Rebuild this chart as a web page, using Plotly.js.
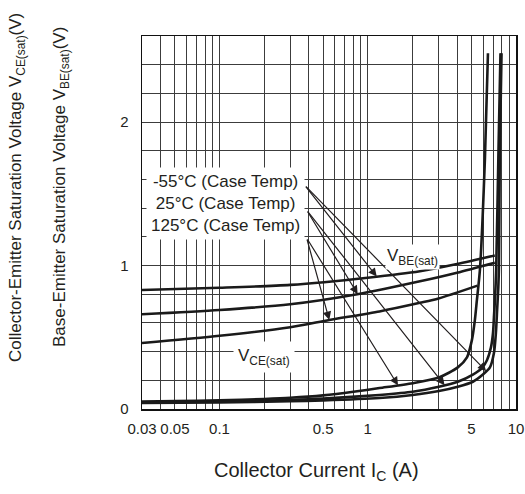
<!DOCTYPE html>
<html>
<head>
<meta charset="utf-8">
<script src="https://cdn.plot.ly/plotly-3.0.1.min.js"></script>
<style>html,body{margin:0;padding:0;background:#fff;}#chart{width:525px;height:494px;}</style>
</head>
<body>
<div id="chart"></div>
<script>
// ---- Data ----
const xTickVals = [0.03, 0.05, 0.1, 0.5, 1, 5, 10];
const xTickText = ['0.03', '0.05', '0.1', '0.5', '1', '5', '10'];
const xGridVals = [0.04, 0.06, 0.07, 0.08, 0.09, 0.2, 0.3, 0.4, 0.6, 0.7, 0.8, 0.9, 2, 3, 4, 6, 7, 8, 9];
const yTickVals = [0, 1, 2];
const yTickText = ['0', '1', '2'];

// VBE(sat) curves
const vbeCurrentM55 = [0.03, 0.1, 0.3, 1, 2.25, 4, 7.2];
const vbeM55 = [0.83, 0.845, 0.865, 0.915, 0.96, 1.01, 1.07];
const vbeCurrent25 = [0.03, 0.1, 0.3, 0.85, 2.25, 4, 7.2];
const vbe25 = [0.66, 0.69, 0.73, 0.80, 0.89, 0.95, 1.02];
const vbeCurrent125 = [0.03, 0.1, 0.3, 0.55, 1.2, 2.25, 3.0, 5.5];
const vbe125 = [0.46, 0.51, 0.57, 0.62, 0.68, 0.74, 0.77, 0.86];

// VCE(sat) curves
const vceCurrent125 = [0.03, 0.05, 0.1, 0.2, 0.3, 0.5, 0.8, 1.2, 2.01, 3.02, 4.05, 4.67, 5.04, 5.28, 5.45, 5.71, 6.17, 6.47];
const vce125 = [0.052, 0.055, 0.06, 0.07, 0.078, 0.095, 0.12, 0.146, 0.18, 0.22, 0.29, 0.36, 0.48, 0.62, 0.76, 0.97, 1.74, 2.48];
const vceCurrent25 = [0.03, 0.1, 0.3, 0.5, 1.2, 2.01, 3.02, 4.05, 5.12, 5.89, 6.37, 6.78, 7.0, 7.1, 7.21, 7.35, 7.62, 7.86];
const vce25 = [0.047, 0.052, 0.063, 0.072, 0.098, 0.12, 0.155, 0.19, 0.24, 0.285, 0.34, 0.43, 0.53, 0.64, 0.76, 0.97, 1.8, 2.48];
const vceCurrentM55 = [0.03, 0.1, 0.3, 0.5, 1.2, 2.01, 3.02, 4.05, 5.12, 5.98, 6.67, 7.1, 7.32, 7.46, 7.6, 7.68, 7.78, 7.99];
const vceM55 = [0.042, 0.046, 0.054, 0.06, 0.077, 0.098, 0.125, 0.155, 0.19, 0.24, 0.29, 0.39, 0.53, 0.69, 0.85, 1.0, 1.8, 2.48];

const tempLabels = ['-55°C (Case Temp)', '25°C (Case Temp)', '125°C (Case Temp)'];

// ---- Helpers ----
function interpLog(xs, ys, x) {
  const lx = Math.log10(x);
  for (let i = 0; i < xs.length - 1; i++) {
    const a = Math.log10(xs[i]), b = Math.log10(xs[i + 1]);
    if (lx >= a && lx <= b) return ys[i] + (ys[i + 1] - ys[i]) * (lx - a) / (b - a);
  }
  return ys[ys.length - 1];
}

const INK = '#231f20';
const FONT = '"Liberation Sans", Arial, Helvetica, sans-serif';

function curve(x, y) {
  return {x: x, y: y, type: 'scatter', mode: 'lines',
    line: {color: '#1a1a1a', width: 2.6, shape: 'spline', smoothing: 0.7},
    hoverinfo: 'skip', showlegend: false};
}

const traces = [
  curve(vbeCurrentM55, vbeM55),
  curve(vbeCurrent25, vbe25),
  curve(vbeCurrent125, vbe125),
  curve(vceCurrent125, vce125),
  curve(vceCurrent25, vce25),
  curve(vceCurrentM55, vceM55)
];

// arrows: [tail x (A), tail y (V), curve xs, curve ys, target x (A)]
const arrowSpecs = [
  [0.375, 1.561, vbeCurrentM55, vbeM55, 1.15],
  [0.375, 1.561, vceCurrentM55, vceM55, 6.3],
  [0.387, 1.387, vbeCurrent25, vbe25, 0.855],
  [0.387, 1.387, vceCurrent25, vce25, 3.3],
  [0.387, 1.192, vbeCurrent125, vbe125, 0.55],
  [0.387, 1.192, vceCurrent125, vce125, 1.6]
];

const annotations = arrowSpecs.map(s => ({
  x: Math.log10(s[4]), y: interpLog(s[2], s[3], s[4]),
  ax: Math.log10(s[0]), ay: s[1], axref: 'x', ayref: 'y', xref: 'x', yref: 'y',
  text: '', showarrow: true, arrowhead: 2, arrowsize: 1.4, arrowwidth: 1.2,
  arrowcolor: INK, standoff: 0, startstandoff: 0
}));

annotations.push({
  x: Math.log10(0.11), y: 1.435, xref: 'x', yref: 'y',
  text: tempLabels.join('<br>'), showarrow: false, align: 'center',
  bgcolor: '#ffffff', borderpad: 4,
  font: {family: FONT, size: 17, color: INK}
});
annotations.push({
  x: Math.log10(2.0), y: 1.06, xref: 'x', yref: 'y',
  text: 'V<sub>BE(sat)</sub>', showarrow: false, bgcolor: '#ffffff', borderpad: 1,
  font: {family: FONT, size: 17, color: INK}
});
annotations.push({
  x: Math.log10(0.2), y: 0.362, xref: 'x', yref: 'y',
  text: 'V<sub>CE(sat)</sub>', showarrow: false, bgcolor: '#ffffff', borderpad: 4,
  font: {family: FONT, size: 17, color: INK}
});
// axis titles
annotations.push({
  x: (17 - 142) / 374, y: (409 - 188) / 373, xref: 'paper', yref: 'paper',
  text: 'Collector-Emitter Saturation Voltage V<sub>CE(sat)</sub>(V)', textangle: -90,
  showarrow: false, xanchor: 'center', yanchor: 'middle',
  font: {family: FONT, size: 17, color: INK}
});
annotations.push({
  x: (61 - 142) / 374, y: (409 - 187) / 373, xref: 'paper', yref: 'paper',
  text: 'Base-Emitter Saturation Voltage V<sub>BE(sat)</sub>(V)', textangle: -90,
  showarrow: false, xanchor: 'center', yanchor: 'middle',
  font: {family: FONT, size: 17, color: INK}
});
annotations.push({
  x: (316 - 142) / 374, y: (409 - 472) / 373, xref: 'paper', yref: 'paper',
  text: 'Collector Current I<sub>C</sub> (A)', showarrow: false,
  xanchor: 'center', yanchor: 'middle',
  font: {family: FONT, size: 20, color: INK}
});

const GRID = '#3c3c3c';
const layout = {
  width: 525, height: 494,
  margin: {l: 142, r: 9, t: 36, b: 85},
  paper_bgcolor: '#ffffff', plot_bgcolor: '#ffffff',
  font: {family: FONT, size: 15, color: INK},
  showlegend: false,
  xaxis: {
    type: 'log', range: [Math.log10(0.03) - 1e-4, Math.log10(10) + 1e-4],
    tickmode: 'array', tickvals: xTickVals, ticktext: xTickText, tickangle: 0,
    ticks: '', showgrid: true, gridcolor: GRID, gridwidth: 1,
    minor: {tickmode: 'array', tickvals: xGridVals, showgrid: true, gridcolor: GRID, gridwidth: 1, ticks: ''},
    showline: true, mirror: true, linecolor: '#111', linewidth: 1.5,
    zeroline: false, ticklabelstandoff: 5,
    tickfont: {family: FONT, size: 15, color: INK}
  },
  yaxis: {
    range: [0, 2.6],
    tickmode: 'array', tickvals: yTickVals, ticktext: yTickText,
    ticks: '', showgrid: true, gridcolor: GRID, gridwidth: 1,
    minor: {tickmode: 'linear', tick0: 0, dtick: 0.2, showgrid: true, gridcolor: GRID, gridwidth: 1, ticks: ''},
    showline: true, mirror: true, linecolor: '#111', linewidth: 1.5,
    zeroline: false, ticklabelstandoff: 9,
    tickfont: {family: FONT, size: 15, color: INK}
  },
  annotations: annotations
};

Plotly.newPlot('chart', traces, layout, {displayModeBar: false, staticPlot: true});
</script>
</body>
</html>
